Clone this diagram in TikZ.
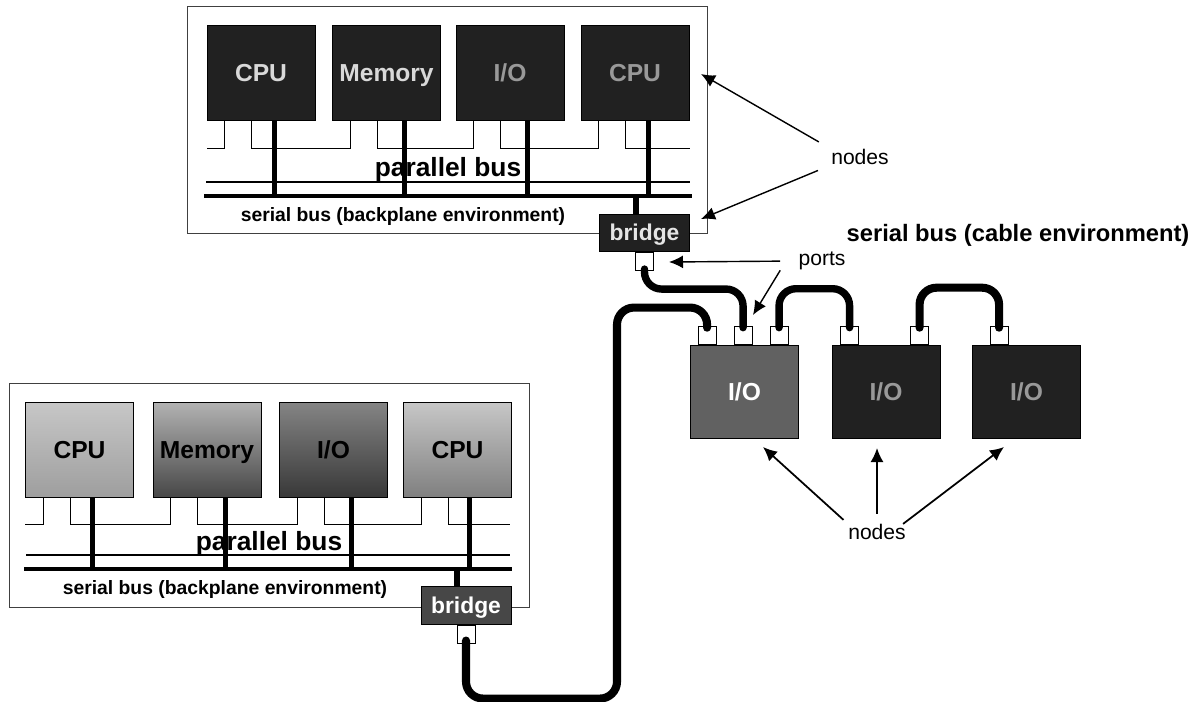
\documentclass[tikz,border=0pt]{standalone}
\usepackage{fontspec}
\setmainfont{Liberation Sans}
\usetikzlibrary{arrows.meta,positioning}
\definecolor{Frame}{gray}{0.25}
\definecolor{Dark}{gray}{0.13}
\tikzset{
  frame/.style={draw=Frame,line width=0.5pt,minimum width=10.4cm,inner sep=0pt},
  box/.style={draw=black,line width=0.5pt,minimum width=2.16cm,minimum height=1.9cm,inner sep=0pt,text height=12pt,text depth=2pt,font=\fontsize{14}{16}\selectfont\bfseries},
  darkbox/.style={box,fill=Dark,text=black!15},
  dimbox/.style={box,fill=Dark,text=black!40},
  bridgebox/.style={draw=black,line width=0.5pt,minimum width=1.8cm,minimum height=0.75cm,inner sep=0pt,text height=11pt,text depth=2pt,font=\fontsize{13}{15}\selectfont\bfseries},
  port/.style={draw=black,line width=0.5pt,fill=white,minimum width=0.36cm,minimum height=0.36cm,inner sep=0pt},
  stub/.style={line width=0.6pt},
  drop/.style={line width=2.9pt},
  sbus/.style={line width=2.6pt},
  cable/.style={line width=4.2pt,rounded corners=0.34cm,line cap=round},
  ptr/.style={->,line width=0.8pt},
  busname/.style={font=\fontsize{15}{17}\selectfont\bfseries,inner sep=0pt},
  sername/.style={font=\fontsize{11}{13}\selectfont\bfseries,inner sep=0pt},
  callout/.style={font=\fontsize{12}{14}\selectfont,inner sep=0pt}
}
\begin{document}
\begin{tikzpicture}[x=0.02cm,y=-0.02cm,>={Latex[length=2.8mm,width=2.6mm]}]
    \useasboundingbox (0,0) rectangle (1202,702);
    % upper backplane
    \node[frame,minimum height=4.54cm] (tframe) at (447.5,119.5) {};
    \node[darkbox] (tcpua) at (261,73) {CPU};
    \node[darkbox] (tmem) at (386.5,73) {Memory};
    \node[dimbox] (tio) at (510,73) {I/O};
    \node[dimbox] (tcpub) at (635,73) {CPU};
    \node[bridgebox,fill=Dark,text=black!10] (tbridge) at (644.5,233) {bridge};
    \node[port,below=0cm of tbridge] (tport) {};
    \coordinate (tbusl) at (204,196);
    \coordinate (tbusr) at (692,196);
    \coordinate (tlinel) at (206,182);
    \coordinate (tliner) at (690,182);
    \draw[stub] ([xshift=0.36cm]tcpua.south west) -- ++(0,28) -- ++(-18,0);
    \foreach \a/\b in {tcpua/tmem,tmem/tio,tio/tcpub}
      \draw[stub] ([xshift=0.9cm]\a.south west) -- ++(0,28) -| ([xshift=0.36cm]\b.south west);
    \draw[stub] ([xshift=0.9cm]tcpub.south west) -- ++(0,28) -- ++(64,0);
    \draw[stub] (tlinel) -- (tliner);
    \foreach \n/\s in {tcpua/1.36,tmem/1.45,tio/1.44,tcpub/1.36}
      \draw[drop] ([xshift=\s cm]\n.south west) -- ++(0,75);
    \draw[sbus] (tbusl) -- (tbusr);
    \draw[drop] ([xshift=-0.17cm]tbridge.north) -- ++(0,-18);
    \node[busname] (tpar) at (448,170) {parallel bus};
    \node[sername] (tser) at (403,217) {serial bus (backplane environment)};

    % lower backplane
    \node[frame,minimum height=4.48cm] (lframe) at (269,495) {};
    \node[box,top color=black!22,bottom color=black!38] (lcpua) at (79.5,449.5) {CPU};
    \node[box,top color=black!30,bottom color=black!72] (lmem) at (207,449.5) {Memory};
    \node[box,top color=black!48,bottom color=black!78] (lio) at (333.5,449.5) {I/O};
    \node[box,top color=black!22,bottom color=black!50] (lcpub) at (457.5,449.5) {CPU};
    \node[bridgebox,fill=black!72,text=white] (lbridge) at (466,605.5) {bridge};
    \node[port,below=0cm of lbridge] (lport) {};
    \coordinate (lbusl) at (24,569);
    \coordinate (lbusr) at (512,569);
    \coordinate (llinel) at (26,555);
    \coordinate (lliner) at (510,555);
    \draw[stub] ([xshift=0.36cm]lcpua.south west) -- ++(0,27) -- ++(-18,0);
    \foreach \a/\b in {lcpua/lmem,lmem/lio,lio/lcpub}
      \draw[stub] ([xshift=0.9cm]\a.south west) -- ++(0,27) -| ([xshift=0.36cm]\b.south west);
    \draw[stub] ([xshift=0.9cm]lcpub.south west) -- ++(0,27) -- ++(62,0);
    \draw[stub] (llinel) -- (lliner);
    \foreach \n/\s in {lcpua/1.35,lmem/1.46,lio/1.45,lcpub/1.33}
      \draw[drop] ([xshift=\s cm]\n.south west) -- ++(0,73);
    \draw[sbus] (lbusl) -- (lbusr);
    \draw[drop] ([xshift=-0.18cm]lbridge.north) -- ++(0,-18);
    \node[busname] (lpar) at (269,544) {parallel bus};
    \node[sername] (lser) at (225,589) {serial bus (backplane environment)};

    % cable environment
    \node[box,minimum height=1.86cm,top color=black!62,bottom color=black!62,text=white] (ioa) at (744.5,391.5) {I/O};
    \node[dimbox,minimum height=1.86cm] (iob) at (886,391.5) {I/O};
    \node[dimbox,minimum height=1.86cm] (ioc) at (1026.5,391.5) {I/O};
    \node[port,above=0cm of ioa.north west,xshift=0.34cm] (pa) {};
    \node[port,above=0cm of ioa.north west,xshift=1.06cm] (pb) {};
    \node[port,above=0cm of ioa.north west,xshift=1.78cm] (pc) {};
    \node[port,above=0cm of iob.north west,xshift=0.36cm] (pd) {};
    \node[port,above=0cm of iob.north west,xshift=1.76cm] (pe) {};
    \node[port,above=0cm of ioc.north west,xshift=0.54cm] (pf) {};
    \draw[cable] ([yshift=0.04cm]tport.south) -- ++(0,20) -| ([yshift=-0.04cm]pb.north);
    \draw[cable] ([yshift=-0.04cm]pc.north) -- ++(0,-39) -| ([yshift=-0.04cm]pd.north);
    \draw[cable,line width=4.6pt] ([yshift=-0.04cm]pe.north) -- ++(0,-40) -| ([yshift=-0.04cm]pf.north);
    \draw[cable,line width=4.6pt] ([yshift=0.06cm]lport.south) -- ++(0,58) -- ++(151,0) -- ++(0,-391) -| ([yshift=-0.04cm]pa.north);
    \node[font=\fontsize{13.5}{15}\selectfont\bfseries,inner sep=0pt] (cabname) at (1018,235) {serial bus (cable environment)};

    % callouts
    \node[callout] (ntop) at (860,157) {nodes};
    \coordinate (ntopa) at (701,74);
    \coordinate (ntopb) at (701,219);
    \draw[ptr,shorten <=0.28cm] (ntop.north west) -- (ntopa);
    \draw[ptr,shorten <=0.28cm] (ntop.south west) -- (ntopb);
    \node[callout] (nports) at (822,261) {ports};
    \coordinate (nportsa) at (669,262);
    \coordinate (nportsb) at (753,315);
    \draw[ptr,shorten <=0.36cm] (nports.west) -- (nportsa);
    \draw[ptr] ([xshift=-0.36cm]nports.south west) -- (nportsb);
    \node[callout] (nlow) at (877,532) {nodes};
    \coordinate (nlowa) at (763,447);
    \coordinate (nlowb) at (877,448);
    \coordinate (nlowc) at (1004,447);
    \draw[ptr,line width=1pt,shorten <=0.12cm] (nlow.north west) -- (nlowa);
    \draw[ptr,line width=1pt,shorten <=0.2cm] (nlow.north) -- (nlowb);
    \draw[ptr,line width=1pt] ([xshift=-0.06cm]nlow.north east) -- (nlowc);
  \end{tikzpicture}
\end{document}
